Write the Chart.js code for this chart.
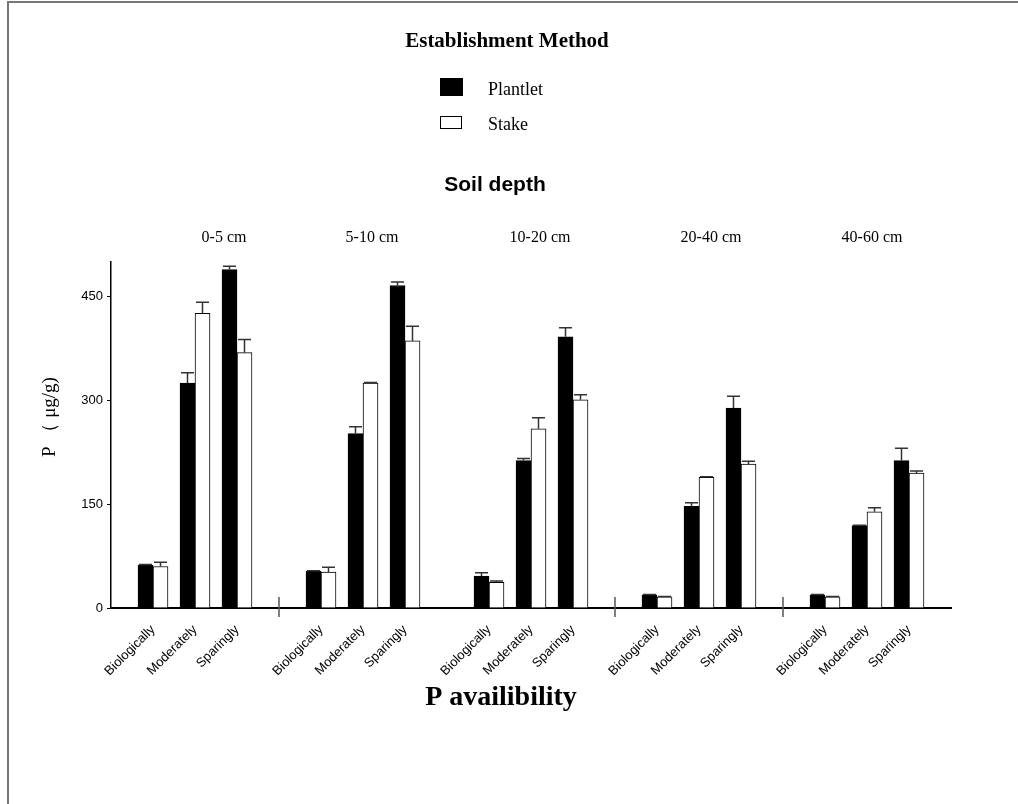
<!DOCTYPE html>
<html>
<head>
<meta charset="utf-8">
<title>P availability by soil depth</title>
<script src="https://cdn.jsdelivr.net/npm/chart.js@4.4.1/dist/chart.umd.min.js"></script>
<style>
    body { margin: 0; background: #fff; }
    #wrap { width: 1018px; height: 804px; position: relative; }
</style>
</head>
<body>
<div id="wrap"><canvas id="pChart" width="1018" height="804"></canvas></div>
<script>
// ===== Data =====
const fractions = ['Biologically', 'Moderately', 'Sparingly'];
const depths = ['0-5 cm', '5-10 cm', '10-20 cm', '20-40 cm', '40-60 cm'];

// values per depth, in fraction order (µg/g)
const plantlet    = [62, 325, 489,  53, 252, 466,  46, 213, 392,  19, 147, 289,  19, 119, 213];
const plantletErr = [ 1,  15,   5,   1,  10,   5,   5,   3,  13, 0.5,   5,  17, 0.5, 0.5,  18];
const stake       = [60, 426, 369,  52, 325, 386,  37, 259, 301,  16, 189, 208,  16, 139, 195];
const stakeErr    = [ 6,  16,  19,   7,   1,  21,   2,  16,   7, 0.5, 0.5,   4, 0.5,   6,   3];

const yTicks = [0, 150, 300, 450];

// ===== Build category slots: empty slot between each depth group =====
const labels = [''];
const plantletData = [null];
const stakeData = [null];
const plantletErrData = [null];
const stakeErrData = [null];
depths.forEach((d, g) => {
    fractions.forEach((f, k) => {
        const i = g * fractions.length + k;
        labels.push(f);
        plantletData.push(plantlet[i]);
        stakeData.push(stake[i]);
        plantletErrData.push(plantletErr[i]);
        stakeErrData.push(stakeErr[i]);
    });
    labels.push('');
    plantletData.push(null);
    stakeData.push(null);
    plantletErrData.push(null);
    stakeErrData.push(null);
});
const errors = [plantletErrData, stakeErrData];
// gap slots that carry a small separator mark on the axis
const sepIndex = [4, 12, 16];
// where the depth headers sit (page x)
const depthLabelX = [224, 372, 540, 711, 872];

const serif = '"Liberation Serif", "DejaVu Serif", serif';
const sans = '"Liberation Sans", Arial, sans-serif';

// ===== Error bars, separators and header text =====
const decorations = {
    id: 'decorations',
    afterDatasetsDraw(chart) {
        const ctx = chart.ctx;
        const y = chart.scales.y;
        ctx.save();
        ctx.strokeStyle = '#333';
        ctx.lineWidth = 1.5;
        chart.data.datasets.forEach((ds, i) => {
            chart.getDatasetMeta(i).data.forEach((bar, j) => {
                const v = ds.data[j];
                const e = errors[i][j];
                if (v == null || e == null) return;
                const top = y.getPixelForValue(v + e);
                ctx.beginPath();
                ctx.moveTo(bar.x, bar.y);
                ctx.lineTo(bar.x, top);
                ctx.moveTo(bar.x - 6.5, top);
                ctx.lineTo(bar.x + 6.5, top);
                ctx.stroke();
            });
        });
        ctx.restore();
    },
    afterDraw(chart) {
        const ctx = chart.ctx;
        const x = chart.scales.x;
        const area = chart.chartArea;
        ctx.save();

        // frame
        ctx.strokeStyle = '#777';
        ctx.lineWidth = 2;
        ctx.beginPath();
        ctx.moveTo(8, 804);
        ctx.lineTo(8, 2);
        ctx.lineTo(1018, 2);
        ctx.stroke();

        // separator marks
        ctx.strokeStyle = '#555';
        ctx.lineWidth = 1.5;
        sepIndex.forEach(idx => {
            const px = x.getPixelForTick(idx);
            ctx.beginPath();
            ctx.moveTo(px, area.bottom - 11);
            ctx.lineTo(px, area.bottom + 9);
            ctx.stroke();
        });

        ctx.fillStyle = '#000';
        ctx.textBaseline = 'alphabetic';

        // legend title
        ctx.textAlign = 'center';
        ctx.font = 'bold 21px ' + serif;
        ctx.fillText('Establishment Method', 507, 47);

        // legend entries
        const ds = chart.data.datasets;
        ctx.fillStyle = ds[0].backgroundColor;
        ctx.fillRect(440, 78, 23, 18);
        ctx.fillStyle = ds[1].backgroundColor;
        ctx.fillRect(440, 116, 22, 13);
        ctx.strokeStyle = '#000';
        ctx.lineWidth = 1;
        ctx.strokeRect(440.5, 116.5, 21, 12);
        ctx.fillStyle = '#000';
        ctx.textAlign = 'left';
        ctx.font = '18px ' + serif;
        ctx.fillText(ds[0].label, 488, 95);
        ctx.fillText(ds[1].label, 488, 130);

        // depth header
        ctx.textAlign = 'center';
        ctx.font = 'bold 21px ' + sans;
        ctx.fillText('Soil depth', 495, 191);
        ctx.font = '16px ' + serif;
        depths.forEach((d, g) => {
            ctx.fillText(d, depthLabelX[g], 242);
        });

        // axis titles
        ctx.font = 'bold 28px ' + serif;
        ctx.fillText('P availibility', 501, 705);
        ctx.translate(55, 417);
        ctx.rotate(-Math.PI / 2);
        ctx.font = '19px ' + serif;
        ctx.fillText('P （ μg/g)', 0, 0);
        ctx.restore();
    }
};

document.addEventListener('DOMContentLoaded', function() {
    const ctx = document.getElementById('pChart');
    new Chart(ctx, {
        type: 'bar',
        data: {
            labels: labels,
            datasets: [{
                label: 'Plantlet',
                data: plantletData,
                backgroundColor: '#000',
                borderColor: '#000',
                borderWidth: 1,
                barThickness: 15
            }, {
                label: 'Stake',
                data: stakeData,
                backgroundColor: '#fff',
                borderColor: '#000',
                borderWidth: 1,
                barThickness: 15
            }]
        },
        options: {
            responsive: false,
            animation: false,
            devicePixelRatio: 1,
            layout: { padding: { left: 0, right: 67, top: 262, bottom: 96 } },
            plugins: {
                legend: { display: false },
                tooltip: { enabled: false }
            },
            scales: {
                x: {
                    offset: false,
                    grid: { display: false },
                    border: { color: '#000', width: 2 },
                    ticks: {
                        autoSkip: false,
                        minRotation: 45,
                        maxRotation: 45,
                        padding: 6,
                        color: '#000',
                        font: { family: sans, size: 13 }
                    },
                    afterFit: scale => { scale.height = 100; }
                },
                y: {
                    min: 0,
                    max: 500,
                    grid: { drawOnChartArea: false, tickLength: 4, color: '#000' },
                    border: { color: '#000', width: 1.5 },
                    ticks: {
                        stepSize: 150,
                        padding: 4,
                        color: '#000',
                        font: { family: sans, size: 13 }
                    },
                    afterBuildTicks: scale => {
                        scale.ticks = yTicks.map(v => ({ value: v }));
                    },
                    afterFit: scale => { scale.width = 111; }
                }
            }
        },
        plugins: [decorations]
    });
});
</script>
</body>
</html>
